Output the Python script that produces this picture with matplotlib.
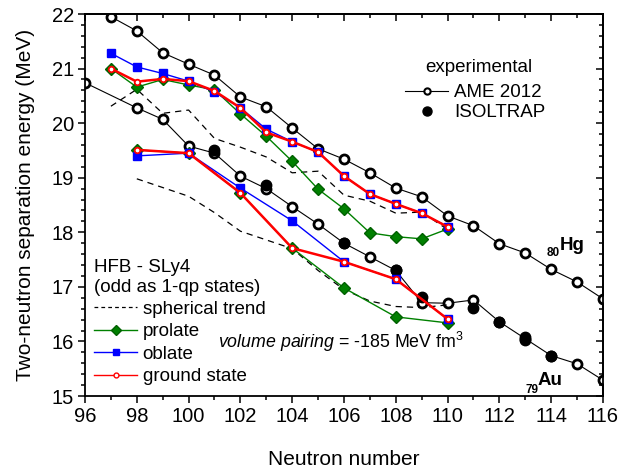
import numpy as np
import matplotlib
matplotlib.use('Agg')
import matplotlib.pyplot as plt
from matplotlib.lines import Line2D
from matplotlib.ticker import MultipleLocator

plt.rcParams['font.family'] = ['Liberation Sans', 'DejaVu Sans']
plt.rcParams['mathtext.fontset'] = 'custom'
plt.rcParams['mathtext.rm'] = 'Liberation Sans'
plt.rcParams['mathtext.it'] = 'Liberation Sans:italic'

# experimental S2n, Hg (Z=80)
hg_n = [97, 98, 99, 100, 101, 102, 103, 104, 105, 106, 107, 108, 109, 110,
        111, 112, 113, 114, 115, 116]
hg_ame = [21.95, 21.69, 21.29, 21.08, 20.88, 20.48, 20.30, 19.91, 19.53, 19.34,
          19.09, 18.81, 18.65, 18.30, 18.12, 17.79, 17.62, 17.32, 17.09, 16.78]

# experimental S2n, Au (Z=79)
au_n = [96, 98, 99, 100, 101, 102, 103, 104, 105, 106, 107, 108, 109, 110,
        111, 112, 113, 114, 115, 116]
au_ame = [20.74, 20.28, 20.07, 19.58, 19.45, 19.03, 18.80, 18.47, 18.15, 17.80,
          17.55, 17.30, 16.71, 16.70, 16.76, 16.36, 16.05, 15.74, 15.59, 15.29]
au_iso_n = [101, 103, 106, 108, 109, 111, 112, 113, 113, 114]
au_iso = [19.50, 18.86, 17.80, 17.30, 16.81, 16.62, 16.36, 16.09, 16.03, 15.74]

# HFB - SLy4, Hg
hg_th_n = [97, 98, 99, 100, 101, 102, 103, 104, 105, 106, 107, 108, 109, 110]
hg_sph = [20.31, 20.62, 20.18, 20.24, 19.72, 19.56, 19.38, 19.09, 19.12, 18.68,
          18.57, 18.35, 18.37, 18.05]
hg_pro = [21.00, 20.66, 20.80, 20.70, 20.61, 20.17, 19.76, 19.30, 18.79, 18.43,
          17.99, 17.92, 17.88, 18.06]
hg_obl = [21.28, 21.03, 20.91, 20.77, 20.57, 20.28, 19.89, 19.66, 19.47, 19.03,
          18.70, 18.52, 18.35, 18.10]
hg_gs = [21.00, 20.76, 20.81, 20.77, 20.59, 20.28, 19.83, 19.66, 19.47, 19.03,
         18.70, 18.52, 18.35, 18.10]

# HFB - SLy4, Au
au_sph_n = [98, 99, 100, 101, 102, 103, 104, 105, 106, 107, 108, 109, 110]
au_sph = [18.98, 18.82, 18.66, 18.36, 18.02, 17.86, 17.70, 17.30, 16.95, 16.74,
          16.64, 16.62, 16.67]
au_th_n = [98, 100, 102, 104, 106, 108, 110]
au_pro = [19.51, 19.45, 18.72, 17.71, 16.98, 16.45, 16.34]
au_obl = [19.40, 19.45, 18.81, 18.21, 17.46, 17.14, 16.41]
au_gs = [19.51, 19.45, 18.72, 17.71, 17.46, 17.14, 16.41]

GREEN = '#008000'
BLUE = '#0000ff'
RED = '#ff0000'

fig = plt.figure(figsize=(6.42, 4.69), dpi=100)
ax = fig.add_axes([85/642, 1 - 396/469, 518/642, 382/469])

open_kw = dict(color='black', lw=0.8, marker='o', ms=6.5, mfc='white',
               mec='black', mew=2.0, zorder=2)
ax.plot(hg_n, hg_ame, **open_kw)
ax.plot(au_n, au_ame, **open_kw)
ax.plot(au_iso_n, au_iso, ls='none', marker='o', ms=7.5, color='black', zorder=2.5)

dash_kw = dict(color='black', lw=0.9, dashes=(5, 4), zorder=3)
ax.plot(hg_th_n, hg_sph, **dash_kw)
ax.plot(au_sph_n, au_sph, **dash_kw)

pro_kw = dict(color=GREEN, lw=1.0, marker='D', ms=6, mfc=GREEN, mec='#006000', zorder=4)
obl_kw = dict(color=BLUE, lw=1.0, marker='s', ms=6, mfc=BLUE, mec=BLUE, zorder=5)
gs_kw = dict(color=RED, lw=1.8, marker='o', ms=4, mfc='white', mec=RED, mew=1.3, zorder=6)
for n, p, o, g in [(hg_th_n, hg_pro, hg_obl, hg_gs), (au_th_n, au_pro, au_obl, au_gs)]:
    ax.plot(n, p, **pro_kw)
    ax.plot(n, o, **obl_kw)
    ax.plot(n, g, **gs_kw)

ax.set_xlim(96, 116)
ax.set_ylim(15, 22)
ax.xaxis.set_major_locator(MultipleLocator(2))
ax.xaxis.set_minor_locator(MultipleLocator(1))
ax.yaxis.set_major_locator(MultipleLocator(1))
ax.yaxis.set_minor_locator(MultipleLocator(0.2))
ax.tick_params(which='both', direction='out', width=1.1, labelsize=14.5, pad=3)
ax.tick_params(which='major', length=5)
ax.tick_params(which='minor', length=3)
for s in ax.spines.values():
    s.set_linewidth(1.3)

top = ax.secondary_xaxis('top')
top.xaxis.set_major_locator(MultipleLocator(2))
top.xaxis.set_minor_locator(MultipleLocator(1))
top.tick_params(which='both', direction='in', width=1.1, labeltop=False)
top.tick_params(which='major', length=5)
top.tick_params(which='minor', length=3)
right = ax.secondary_yaxis('right')
right.yaxis.set_major_locator(MultipleLocator(1))
right.yaxis.set_minor_locator(MultipleLocator(0.2))
right.tick_params(which='both', direction='in', width=1.1, labelright=False)
right.tick_params(which='major', length=5)
right.tick_params(which='minor', length=3)
for a in (top, right):
    for s in a.spines.values():
        s.set_linewidth(1.3)

ax.set_xlabel('Neutron number', fontsize=15, labelpad=17)
ax.set_ylabel('Two-neutron separation energy (MeV)', fontsize=15, labelpad=12)

# legends
ax.text((479 - 85) / 518, 1 - (67 - 14) / 382, 'experimental', transform=ax.transAxes,
        fontsize=13.5, ha='center', va='center')
exp_handles = [
    Line2D([], [], color='black', lw=0.8, marker='o', ms=4.5, mfc='white', mec='black', mew=1.5),
    Line2D([], [], ls='none', marker='o', ms=6.5, color='black'),
]
leg1 = ax.legend(exp_handles, ['AME 2012', 'ISOLTRAP'],
                 loc='upper left', bbox_to_anchor=((405 - 85) / 518, 1 - (84 - 14) / 382),
                 frameon=False, fontsize=13.5, borderpad=0,
                 borderaxespad=0, handlelength=2.3, handletextpad=0.3, labelspacing=0.15)
ax.add_artist(leg1)

th_handles = [
    Line2D([], [], color='black', lw=0.9, dashes=(3, 2.5)),
    Line2D([], [], color=GREEN, lw=1.0, marker='D', ms=5, mfc=GREEN, mec='#006000'),
    Line2D([], [], color=BLUE, lw=1.0, marker='s', ms=5, mfc=BLUE, mec=BLUE),
    Line2D([], [], color=RED, lw=1.0, marker='o', ms=3.5, mfc='white', mec=RED, mew=1.0),
]
leg2 = ax.legend(th_handles, ['spherical trend', 'prolate', 'oblate', 'ground state'],
                 title='HFB - SLy4\n(odd as 1-qp states)', alignment='left',
                 loc='upper left', bbox_to_anchor=((94 - 85) / 518, 1 - (259 - 14) / 382),
                 frameon=False, fontsize=13.5, title_fontsize=13.5, borderpad=0,
                 borderaxespad=0, handlelength=2.3, handletextpad=0.3, labelspacing=0.28)

# nucleus labels and pairing note
ax.text(113.84, 17.57, '80', fontsize=8.5, fontweight='bold', va='baseline')
ax.text(114.34, 17.68, 'Hg', fontsize=13.5, fontweight='bold', va='baseline')
ax.text(112.99, 15.05, '79', fontsize=8.5, fontweight='bold', va='baseline')
ax.text(113.49, 15.20, 'Au', fontsize=13.5, fontweight='bold', va='baseline')
ax.text(101.14, 15.88, r'$\mathit{volume\ pairing}$ = -185 MeV fm$^{3}$',
        fontsize=12.8, va='baseline')

fig.savefig('out.png', dpi=100)
